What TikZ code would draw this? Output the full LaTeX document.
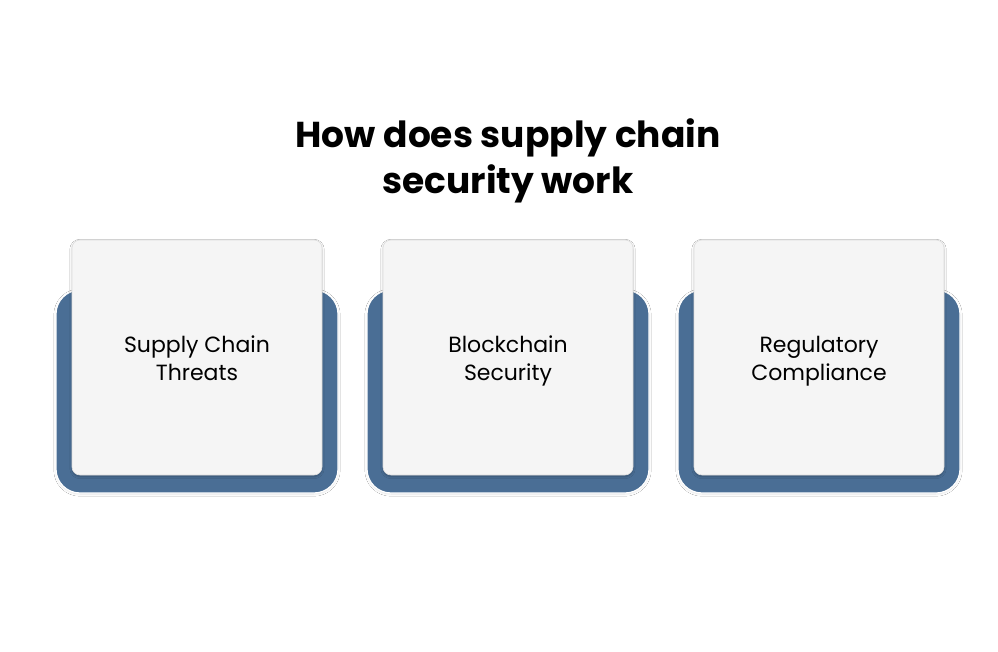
\documentclass[tikz,border=0pt]{standalone}
\usepackage{fontspec}
\setmainfont{Poppins}
\usetikzlibrary{shadows.blur}
\definecolor{bluebox}{HTML}{4A6E95}
\definecolor{cardfill}{HTML}{F5F5F5}
\definecolor{edgegray}{HTML}{DDDDDD}
\tikzset{
  backbox/.style={fill=bluebox, draw=white, line width=1.2pt, rounded corners=24pt,
    blur shadow={shadow blur steps=6, shadow xshift=0pt, shadow yshift=-1pt, shadow opacity=12}},
  cardbox/.style={fill=cardfill, draw=edgegray, line width=0.6pt, rounded corners=8pt,
    blur shadow={shadow blur steps=5, shadow xshift=0pt, shadow yshift=-1.5pt, shadow opacity=25}},
  lbl/.style={anchor=base, inner sep=0pt, font=\fontsize{22}{28}\selectfont, text=black},
  ttl/.style={anchor=base, inner sep=0pt, font=\fontsize{36}{47}\selectfont\bfseries, text=black},
}
\begin{document}
\begin{tikzpicture}[x=1pt,y=-1pt]
\useasboundingbox[fill=white] (0,0) rectangle (998,652);
\node[ttl] (title1) at (508,148) {How does supply chain};
\node[ttl] (title2) at (508,194) {security work};
\foreach \i/\dx/\la/\lb in {1/0/{Supply Chain}/{Threats}, 2/311/{Blockchain}/{Security}, 3/622/{Regulatory}/{Compliance}}{
  \path[backbox] (56+\dx,290) rectangle (338+\dx,493);
  \path[cardbox] (72+\dx,240) rectangle (322+\dx,475);
  \node[lbl] (a\i) at (197+\dx,352) {\la};
  \node[lbl] (b\i) at (197+\dx,380) {\lb};
}
\end{tikzpicture}
\end{document}
